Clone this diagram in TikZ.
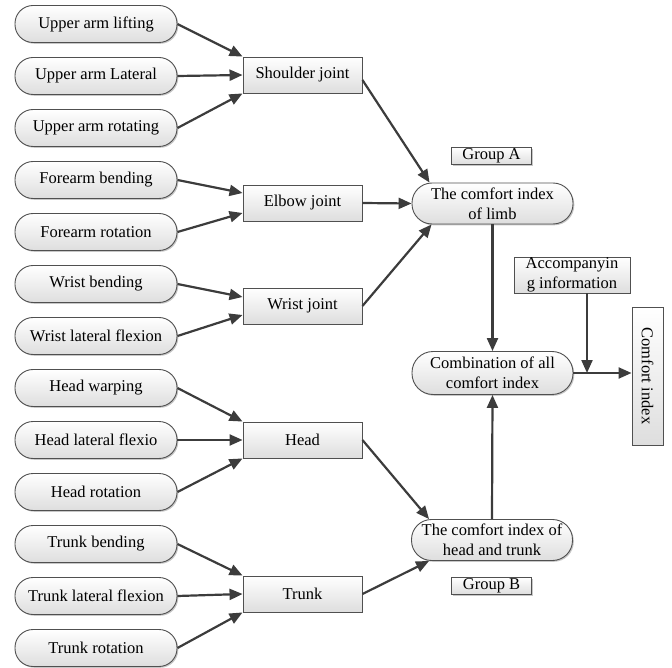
\documentclass[tikz,border=0pt]{standalone}
\usepackage{fontspec}
\setmainfont{Liberation Serif}
\usetikzlibrary{arrows.meta,shadows,calc}
\definecolor{arr}{HTML}{3C3C3C}
\definecolor{edge}{HTML}{505050}
\begin{document}
\begin{tikzpicture}[x=1pt,y=-1pt,
  base/.style={draw=edge,line width=0.9pt,top color=white,bottom color=black!13,
    drop shadow={shadow xshift=1.3pt,shadow yshift=-1.3pt,fill=black!22,opacity=1},
    inner sep=0pt,align=center,font=\rmfamily\fontsize{16.5}{20}\selectfont},
  oval/.style={base,rounded corners=18pt,minimum width=162pt,minimum height=37pt},
  bigoval/.style={base,rounded corners=20pt,minimum width=161pt,minimum height=41pt},
  joint/.style={base,rectangle,minimum width=119pt,minimum height=36pt},
  tag/.style={base,rectangle,minimum width=80pt,minimum height=17pt},
  con/.style={draw=arr,line width=2.2pt,-{Triangle[length=13pt,width=11pt]}},
  plain/.style={draw=arr,line width=2.2pt}]
\useasboundingbox (0,0) rectangle (672,668);

% left ovals
\node[oval] (o1) at (96,24) {Upper arm lifting};
\node[oval] (o2) at (96,76) {Upper arm Lateral};
\node[oval] (o3) at (96,128) {Upper arm rotating};
\node[oval] (o4) at (96,180) {Forearm bending};
\node[oval] (o5) at (96,232) {Forearm rotation};
\node[oval] (o6) at (96,284) {Wrist bending};
\node[oval] (o7) at (96,336) {Wrist lateral flexion};
\node[oval] (o8) at (96,388) {Head warping};
\node[oval] (o9) at (96,440) {Head lateral flexio};
\node[oval] (o10) at (96,492) {Head rotation};
\node[oval] (o11) at (96,544) {Trunk bending};
\node[oval] (o12) at (96,596) {Trunk lateral flexion};
\node[oval] (o13) at (96,648) {Trunk rotation};

% joints
\node[joint] (sh) at (302.5,75) {Shoulder joint};
\node[joint] (el) at (302.5,203) {Elbow joint};
\node[joint] (wr) at (302.5,306) {Wrist joint};
\node[joint] (hd) at (302.5,440) {Head};
\node[joint] (tr) at (302.5,594) {Trunk};

% right side
\node[tag] (ga) at (491.5,156) {Group A};
\node[tag] (gb) at (491.5,586) {Group B};
\node[bigoval] (limb) at (492.5,203.5) {The comfort index\\of limb};
\node[bigoval,minimum height=43pt,rounded corners=21pt] (comb) at (492.5,373) {Combination of all\\comfort index};
\node[bigoval] (ht) at (492,540) {The comfort index of\\head and trunk};
\node[base,rectangle,minimum width=116pt,minimum height=36pt] (acc) at (572,275) {Accompanyin\\g information};
\node[base,rectangle,rotate=-90,minimum width=138pt,minimum height=31pt] (ci) at (647.5,376) {Comfort index};

% left arrows
\draw[con] (o1.east) -- (sh.north west);
\draw[con] (o2.east) -- (sh.west);
\draw[con] (o3.east) -- (sh.south west);
\draw[con] (o4.east) -- ([yshift=10pt]el.west);
\draw[con] (o5.east) -- ([yshift=-10pt]el.west);
\draw[con] (o6.east) -- ([yshift=9pt]wr.west);
\draw[con] (o7.east) -- ([yshift=-9pt]wr.west);
\draw[con] (o8.east) -- (hd.north west);
\draw[con] (o9.east) -- (hd.west);
\draw[con] (o10.east) -- (hd.south west);
\draw[con] (o11.east) -- (tr.north west);
\draw[con] (o12.east) -- (tr.west);
\draw[con] (o13.east) -- (tr.south west);

% middle arrows
\draw[con] ([yshift=-5pt]sh.east) -- ([xshift=18pt]limb.north west);
\draw[con] (el.east) -- (limb.west);
\draw[con] (wr.east) -- ([xshift=20pt]limb.south west);
\draw[con] (hd.east) -- ([xshift=18pt]ht.north west);
\draw[con] (tr.east) -- ([xshift=18pt]ht.south west);

% right arrows
\draw[con] (limb.south) -- (comb.north);
\draw[con] (ht.north) -- (comb.south);
\coordinate (accfoot) at ([xshift=15pt]acc.south);
\coordinate (join) at (accfoot |- comb.east);
\draw[con] (comb.east) -- (comb.east -| ci.south);
\draw[con] (accfoot) -- (join);
\end{tikzpicture}
\end{document}
